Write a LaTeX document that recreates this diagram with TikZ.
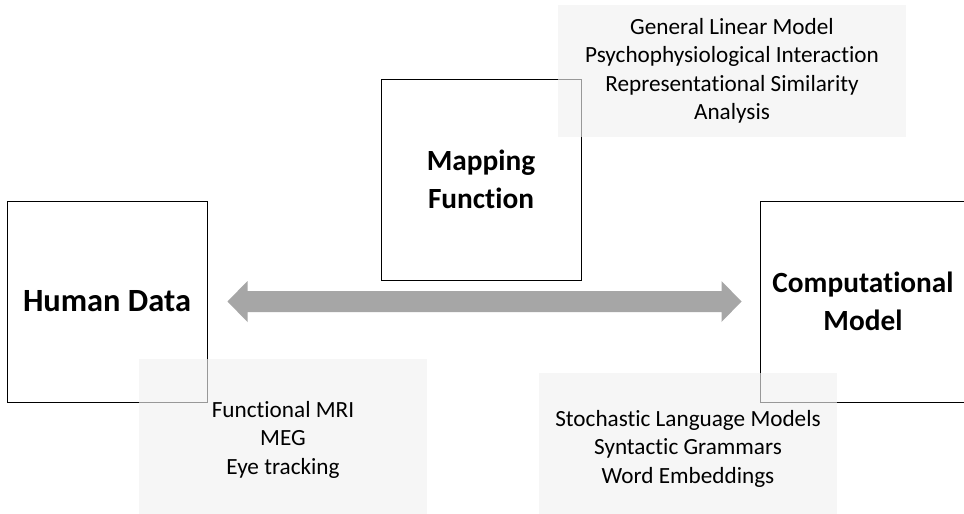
\documentclass[tikz,border=0pt]{standalone}
\usepackage{fontspec}
\setmainfont{Carlito}[RawFeature=-liga]
\usetikzlibrary{calc}
\definecolor{arrowgrey}{HTML}{A6A6A6}
\tikzset{
  x=1pt, y=-1pt,
  mainbox/.style={draw=black, line width=1pt, fill=white, minimum width=200pt,
    minimum height=201pt, inner sep=0pt, align=center,
    font=\fontsize{29.3}{37.5}\selectfont\bfseries},
  notebox/.style={fill=black!5, fill opacity=0.63, text opacity=1, inner sep=0pt,
    align=center, font=\fontsize{23.2}{28.5}\selectfont},
}
\begin{document}
\begin{tikzpicture}
\clip (0,0) rectangle (964,514);
\fill[white] (0,0) rectangle (964,514);

% the three main boxes
\node[mainbox, font=\fontsize{32.4}{37.5}\selectfont\bfseries] (hd) at (107,301.5) {Human Data};
\node[mainbox] (mf) at (481,179.5) {Mapping\\Function};
\node[mainbox, minimum width=206pt] (cm) at (863,301.5) {Computational\\Model};

% double-headed arrow between data and model
\coordinate (tipL) at ($(hd.east)+(20,0)$);
\coordinate (tipR) at ($(cm.west)+(-18,0)$);
\fill[arrowgrey] (tipL) -- ++(20,-20.5) -- ++(0,10) -- ($(tipR)+(-20,-10.5)$)
  -- ++(0,-10) -- (tipR) -- ++(-20,20.5) -- ++(0,-10) -- ($(tipL)+(20,10.5)$)
  -- ++(0,10) -- cycle;

% translucent annotation panels
\node[notebox, minimum width=348pt, minimum height=132pt] (glm) at (732,71)
  {General Linear Model\\Psychophysiological Interaction\\Representational Similarity\\Analysis};
\node[notebox, minimum width=288pt, minimum height=161pt] (meas) at (283,439.5)
  {Functional MRI\\MEG\\Eye tracking};
\node[notebox, minimum width=298pt, minimum height=151pt] (lang) at (688,448.5)
  {Stochastic Language Models\\Syntactic Grammars\\Word Embeddings};
\end{tikzpicture}
\end{document}
